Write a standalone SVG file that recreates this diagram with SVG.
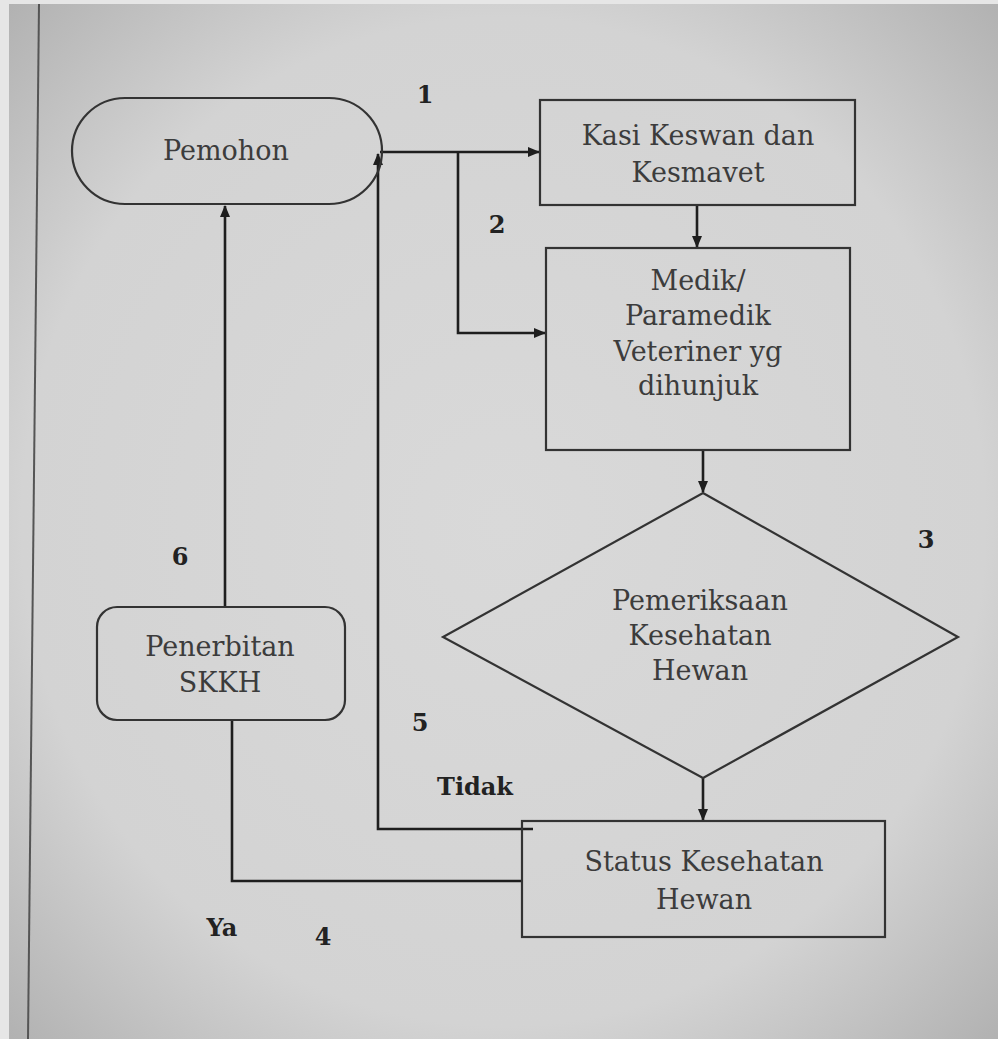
<svg xmlns="http://www.w3.org/2000/svg" width="998" height="1039" viewBox="0 0 998 1039">
<defs>
<radialGradient id="paper" cx="0.5" cy="0.5" r="0.75">
<stop offset="0" stop-color="#d9d9d9"/>
<stop offset="0.65" stop-color="#d3d3d3"/>
<stop offset="1" stop-color="#ababab"/>
</radialGradient>
<marker id="arr" viewBox="0 0 12 10" refX="11" refY="5" markerWidth="13" markerHeight="10" markerUnits="userSpaceOnUse" orient="auto">
<path d="M0,0 L12,5 L0,10 Z" fill="#1e1e1e"/>
</marker>
<style>
.shape{fill:none;stroke:#333;stroke-width:2.2}
.line{fill:none;stroke:#1e1e1e;stroke-width:2.6}
.lbl{font-family:"DejaVu Serif","Liberation Serif",serif;font-size:27px;fill:#3c3c3c;text-anchor:middle}
.num{font-family:"DejaVu Serif","Liberation Serif",serif;font-size:24px;font-weight:bold;fill:#222;text-anchor:middle}
</style>
</defs>
<rect x="0" y="0" width="998" height="1039" fill="#e6e6e6"/>
<rect x="9" y="4" width="989" height="1035" fill="url(#paper)"/>
<line x1="39" y1="4" x2="28" y2="1039" stroke="#555" stroke-width="2"/>

<g id="connectors">
<line class="line" x1="380" y1="152" x2="539" y2="152" marker-end="url(#arr)"/>
<polyline class="line" points="458,152 458,333 545,333" marker-end="url(#arr)"/>
<line class="line" x1="697" y1="205" x2="697" y2="247" marker-end="url(#arr)"/>
<line class="line" x1="703" y1="450" x2="703" y2="492" marker-end="url(#arr)"/>
<line class="line" x1="703" y1="778" x2="703" y2="820" marker-end="url(#arr)"/>
<polyline class="line" points="533,829 378,829 378,820 378,154" marker-end="url(#arr)"/>
<polyline class="line" points="522,881 232,881 232,720"/>
<line class="line" x1="225" y1="607" x2="225" y2="206" marker-end="url(#arr)"/>
</g>

<g id="pemohon">
<rect class="shape" x="72" y="98" width="310" height="106" rx="53" ry="53"/>
<text class="lbl" x="226" y="160">Pemohon</text>
</g>
<g id="kasi">
<rect class="shape" x="540" y="100" width="315" height="105"/>
<text class="lbl" x="698" y="145">Kasi Keswan dan</text>
<text class="lbl" x="698" y="182">Kesmavet</text>
</g>
<g id="medik">
<rect class="shape" x="546" y="248" width="304" height="202"/>
<text class="lbl" x="698" y="290">Medik/</text>
<text class="lbl" x="698" y="325">Paramedik</text>
<text class="lbl" x="698" y="361">Veteriner yg</text>
<text class="lbl" x="698" y="395">dihunjuk</text>
</g>
<g id="pemeriksaan">
<polygon class="shape" points="703,493 958,637 703,778 443,637"/>
<text class="lbl" x="700" y="610">Pemeriksaan</text>
<text class="lbl" x="700" y="645">Kesehatan</text>
<text class="lbl" x="700" y="680">Hewan</text>
</g>
<g id="status">
<rect class="shape" x="522" y="821" width="363" height="116"/>
<text class="lbl" x="704" y="871">Status Kesehatan</text>
<text class="lbl" x="704" y="909">Hewan</text>
</g>
<g id="penerbitan">
<rect class="shape" x="97" y="607" width="248" height="113" rx="20" ry="20"/>
<text class="lbl" x="220" y="656">Penerbitan</text>
<text class="lbl" x="220" y="692">SKKH</text>
</g>

<g id="labels">
<text class="num" x="425" y="103">1</text>
<text class="num" x="497" y="233">2</text>
<text class="num" x="926" y="548">3</text>
<text class="num" x="323" y="945">4</text>
<text class="num" x="420" y="731">5</text>
<text class="num" x="180" y="565">6</text>
<text class="num" x="475" y="795">Tidak</text>
<text class="num" x="222" y="936">Ya</text>
</g>
</svg>
